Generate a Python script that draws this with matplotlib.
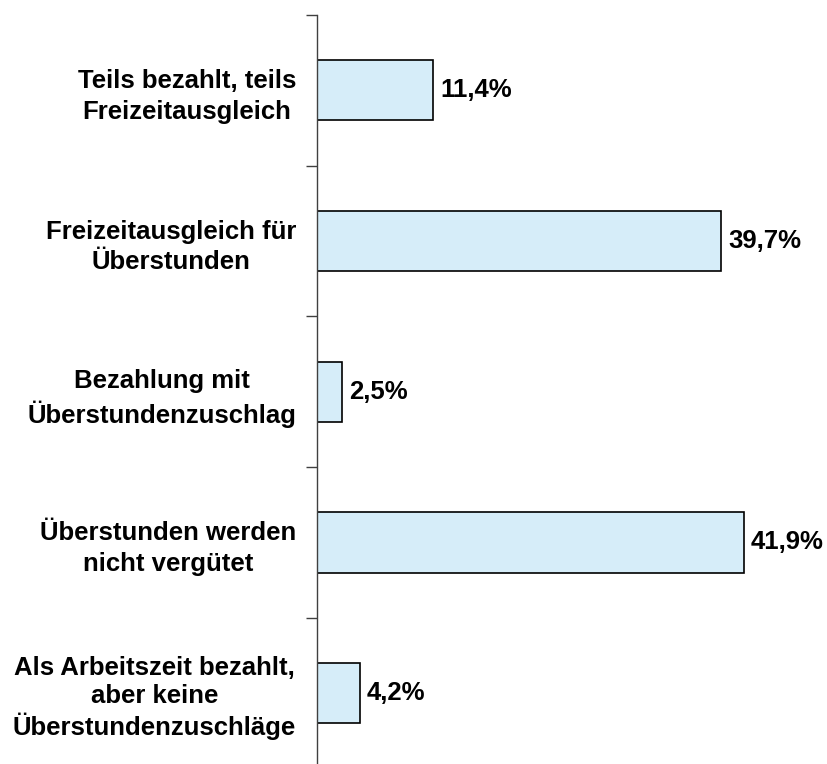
import matplotlib
matplotlib.use('Agg')
import matplotlib.pyplot as plt
import numpy as np

categories = [
    'Teils bezahlt, teils\nFreizeitausgleich',
    'Freizeitausgleich für\nÜberstunden',
    'Bezahlung mit\nÜberstundenzuschlag',
    'Überstunden werden\nnicht vergütet',
    'Als Arbeitszeit bezahlt,\naber keine\nÜberstundenzuschläge',
]
values = [11.4, 39.7, 2.5, 41.9, 4.2]
value_labels = ['11,4%', '39,7%', '2,5%', '41,9%', '4,2%']

plt.rcParams['font.family'] = ['Liberation Sans', 'DejaVu Sans']

fig = plt.figure(figsize=(8.27, 7.64), dpi=100)
# axes spans from the top tick down to just past the bottom edge
ax = fig.add_axes([317 / 827, -0.0059, 0.616, (764 - 15) / 764 + 0.0059])

y = np.arange(len(categories))
ax.barh(y, values, height=0.4, color='#D6EDF9', edgecolor='black', linewidth=1.2)

for yi, v, lab in zip(y, values, value_labels):
    ax.text(v + 0.7, yi, lab, va='center', ha='left', fontsize=18.5, fontweight='bold')

ax.set_ylim(len(categories) - 0.5, -0.5)
ax.set_xlim(0, 50)

ax.set_yticks(y)
ax.set_yticklabels(categories, fontsize=18.5, fontweight='bold', multialignment='center')
# two-line labels sit a bit looser than the three-line one
for t in ax.get_yticklabels():
    t.set_linespacing(1.35 if t.get_text().count('\n') == 1 else 1.2)
ax.set_yticks(np.arange(-0.5, len(categories), 1), minor=True)
ax.tick_params(axis='y', which='major', length=0, pad=15)
ax.tick_params(axis='y', which='minor', length=8, width=1, color='#404040')

ax.set_xticks([])
for s in ['top', 'right', 'bottom']:
    ax.spines[s].set_visible(False)
ax.spines['left'].set_color('#404040')
ax.spines['left'].set_linewidth(1)

fig.savefig('out.png', dpi=100)
